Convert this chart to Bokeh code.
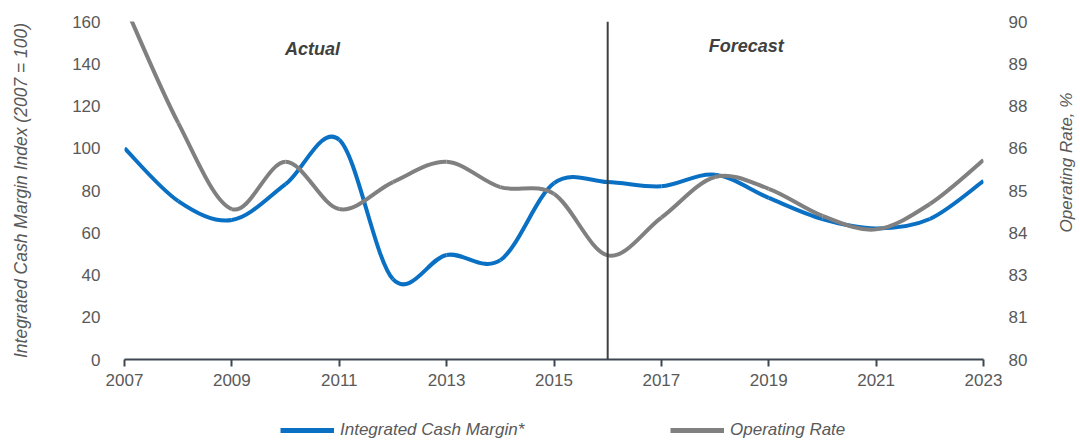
import numpy as np
from bokeh.plotting import figure
from bokeh.layouts import column, row
from bokeh.models import (Range1d, LinearAxis, FixedTicker, Span, Label, Legend,
                          LegendItem, NumeralTickFormatter)
from bokeh.embed import file_html
from bokeh.resources import INLINE

# ---------------- data ----------------
years = list(range(2007, 2024))
cash_margin = [100, 75, 66, 83, 104, 38, 49.5, 47, 83.5, 84, 82, 87.5, 76.5, 66.5, 62, 66.5, 84.5]
operating_rate = [90.5, 87.0, 84.45, 85.85, 84.45, 85.25, 85.85, 85.1, 84.9, 83.08, 84.2,
                  85.4, 85.05, 84.25, 83.85, 84.6, 85.9]
x_ticks = [2007, 2009, 2011, 2013, 2015, 2017, 2019, 2021, 2023]
left_ticks = [0, 20, 40, 60, 80, 100, 120, 140, 160]
right_ticks = [80, 81.25, 82.5, 83.75, 85, 86.25, 87.5, 88.75, 90]
forecast_start = 2016
series_names = ["Integrated Cash Margin*", "Operating Rate"]
right_axis_title = "Operating Rate, %"

BLUE = "#0A70C4"
GRAY = "#808080"
TXT = "#595959"
FONT = "Liberation Sans"


def smooth_segments(xs, ys):
    """Bezier control points (Excel-like smoothing) for each consecutive pair."""
    xs = np.asarray(xs, float)
    ys = np.asarray(ys, float)
    n = len(xs)
    xp = np.concatenate([[xs[0]], xs, [xs[-1]]])
    yp = np.concatenate([[ys[0]], ys, [ys[-1]]])
    d = dict(x0=[], y0=[], x1=[], y1=[], cx0=[], cy0=[], cx1=[], cy1=[])
    for i in range(n - 1):
        j = i + 1
        d["x0"].append(xs[i]); d["y0"].append(ys[i])
        d["x1"].append(xs[i + 1]); d["y1"].append(ys[i + 1])
        d["cx0"].append(xs[i] + (xp[j + 1] - xp[j - 1]) / 6)
        d["cy0"].append(ys[i] + (yp[j + 1] - yp[j - 1]) / 6)
        d["cx1"].append(xs[i + 1] - (xp[j + 2] - xp[j]) / 6)
        d["cy1"].append(ys[i + 1] - (yp[j + 2] - yp[j]) / 6)
    return d


p = figure(width=1050, height=411, x_range=Range1d(2007, 2023), y_range=Range1d(0, 160),
           output_backend="svg", toolbar_location=None,
           min_border_left=124, min_border_right=67, min_border_top=21, min_border_bottom=52)
p.extra_y_ranges = {"right": Range1d(80, 90)}
p.outline_line_color = None
p.grid.grid_line_color = None
p.background_fill_color = "white"
p.border_fill_color = "white"

# x axis
xa = p.xaxis[0]
xa.ticker = FixedTicker(ticks=x_ticks)
xa.minor_tick_line_color = None
xa.axis_line_color = "#3E4852"
xa.axis_line_width = 2
xa.major_tick_line_color = "#3E4852"
xa.major_tick_line_width = 2
xa.major_tick_out = 7
xa.major_tick_in = 0
xa.major_label_standoff = 7
xa.major_label_text_font = FONT
xa.major_label_text_font_size = "17px"
xa.major_label_text_color = TXT

# left axis
ya = p.yaxis[0]
ya.ticker = FixedTicker(ticks=left_ticks)
ya.minor_tick_line_color = None
ya.major_tick_line_color = None
ya.axis_line_color = None
ya.major_label_standoff = 18
ya.major_label_text_font = FONT
ya.major_label_text_font_size = "17px"
ya.major_label_text_color = TXT
ya.axis_label = "Integrated Cash Margin Index (2007 = 100)"
ya.axis_label_text_font = FONT
ya.axis_label_text_font_style = "italic"
ya.axis_label_text_font_size = "17.5px"
ya.axis_label_text_color = TXT
ya.axis_label_standoff = 38

# right axis
ra = LinearAxis(y_range_name="right", ticker=FixedTicker(ticks=right_ticks),
                formatter=NumeralTickFormatter(format="0"))
ra.minor_tick_line_color = None
ra.major_tick_line_color = None
ra.axis_line_color = None
ra.major_label_standoff = 19
ra.major_label_text_font = FONT
ra.major_label_text_font_size = "17px"
ra.major_label_text_color = TXT
p.add_layout(ra, "right")

# series (smoothed)
p.bezier(source=smooth_segments(years, cash_margin), x0="x0", y0="y0", x1="x1", y1="y1",
         cx0="cx0", cy0="cy0", cx1="cx1", cy1="cy1", line_color=BLUE, line_width=4)
p.bezier(source=smooth_segments(years, operating_rate), x0="x0", y0="y0", x1="x1", y1="y1",
         cx0="cx0", cy0="cy0", cx1="cx1", cy1="cy1", line_color=GRAY, line_width=4,
         y_range_name="right")

# divider
p.add_layout(Span(location=forecast_start, dimension="height", line_color="#404040", line_width=2))

# annotations
p.add_layout(Label(x=2010.5, y=147, text="Actual", text_font=FONT,
                   text_font_style="bold italic", text_font_size="18px", text_color="#404040",
                   text_align="center", text_baseline="middle"))
p.add_layout(Label(x=2018.58, y=148.5, text="Forecast", text_font=FONT,
                   text_font_style="bold italic", text_font_size="18px", text_color="#404040",
                   text_align="center", text_baseline="middle"))

# legend strip (separate small figure below; its frame aligns with the main frame)
lf = figure(width=1050, height=30, x_range=Range1d(0, 1), y_range=Range1d(0, 1),
            output_backend="svg", toolbar_location=None,
            min_border_left=0, min_border_right=0, min_border_top=0, min_border_bottom=0)
lf.axis.visible = False
lf.grid.grid_line_color = None
lf.outline_line_color = None
lf.border_fill_color = "white"
# series re-plotted outside this strip's view, only to serve as legend entries
r1 = lf.line(x=years, y=cash_margin, line_color=BLUE, line_width=5)
r2 = lf.line(x=years, y=operating_rate, line_color=GRAY, line_width=5)
for r, name, loc in [(r1, series_names[0], (156, 1)), (r2, series_names[1], (546, 1))]:
    lg = Legend(items=[LegendItem(label=name, renderers=[r])], location=loc,
                orientation="horizontal", padding=0, margin=0, border_line_color=None,
                background_fill_alpha=0, glyph_width=54, glyph_height=20, label_standoff=6,
                label_text_font=FONT, label_text_font_style="italic",
                label_text_font_size="17px", label_text_color=TXT)
    lf.add_layout(lg, "center")

# right-hand strip carrying the right axis title
tf = figure(width=30, height=441, x_range=Range1d(0, 30), y_range=Range1d(0, 441),
            output_backend="svg", toolbar_location=None,
            min_border_left=0, min_border_right=0, min_border_top=0, min_border_bottom=0)
tf.axis.visible = False
tf.grid.grid_line_color = None
tf.outline_line_color = None
tf.border_fill_color = "white"
tf.add_layout(Label(x=16, y=279, text=right_axis_title, angle=np.pi / 2, text_font=FONT,
                    text_font_style="italic", text_font_size="17px", text_color=TXT,
                    text_align="center", text_baseline="middle"))

layout = row(column(p, lf, spacing=0), tf, spacing=0)
open("out.html", "w").write(file_html(layout, INLINE))
